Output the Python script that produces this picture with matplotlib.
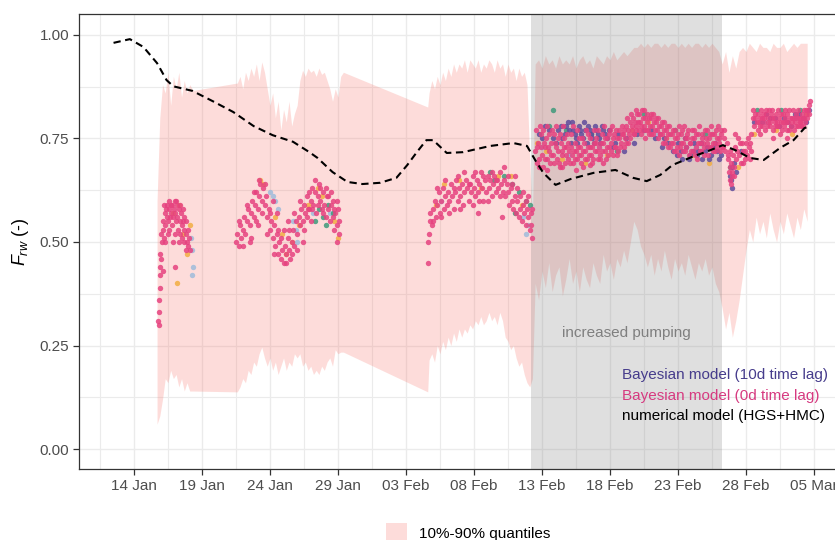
import numpy as np
import matplotlib
matplotlib.use("Agg")
import matplotlib.pyplot as plt
import matplotlib.dates as mdates
import matplotlib.ticker as mticker
from matplotlib.patches import Rectangle

plt.rcParams['font.family'] = ['Liberation Sans', 'DejaVu Sans']
plt.rcParams['mathtext.fontset'] = 'custom'
plt.rcParams['mathtext.it'] = 'Liberation Sans:italic'
plt.rcParams['mathtext.rm'] = 'Liberation Sans'

# day of year 2019 (1 = 01 Jan)
# numerical model (HGS+HMC)
num_t = [12.5, 13.7, 14.7, 15.7, 16.4, 16.9, 18.3, 19.8, 21.3, 22.8, 24.2, 25.7,
         26.9, 27.5, 28.6, 29.7, 30.8, 32.1, 33.3, 34.1, 34.8, 35.5, 36.0, 37.0,
         38.2, 40.2, 41.9, 42.9, 43.5, 44.1, 45.0, 46.1, 47.8, 49.4, 50.7, 51.7,
         52.7, 53.6, 55.0, 56.4, 57.3, 58.2, 59.3, 60.3, 61.5, 62.5, 63.3, 63.7]
num_v = [0.981, 0.990, 0.971, 0.932, 0.891, 0.876, 0.865, 0.840, 0.814, 0.780, 0.758, 0.742,
         0.717, 0.703, 0.669, 0.645, 0.640, 0.643, 0.655, 0.686, 0.717, 0.746, 0.746, 0.715,
         0.717, 0.732, 0.739, 0.732, 0.698, 0.667, 0.638, 0.652, 0.667, 0.674, 0.655, 0.647,
         0.662, 0.686, 0.705, 0.722, 0.734, 0.722, 0.703, 0.698, 0.727, 0.746, 0.775, 0.780]

# 10%-90% quantile band
band_t = [15.7, 15.9, 16.1, 16.3, 16.5, 16.7, 16.9, 17.1, 17.3, 17.5, 17.7, 17.9, 18.1, 18.35,
          21.6, 21.8, 22.0, 22.2, 22.4, 22.6, 22.8, 23.0, 23.2, 23.4, 23.6, 23.8, 24.0, 24.2,
          24.4, 24.6, 24.8, 25.0, 25.2, 25.4, 25.6, 25.8, 26.0, 26.2, 26.4, 26.6, 26.8, 27.0,
          27.2, 27.4, 27.6, 27.8, 28.0, 28.2, 28.4, 28.6, 28.8, 29.0, 29.2, 29.4,
          35.6, 35.7, 35.9, 36.1, 36.3, 36.5, 36.7, 36.9, 37.1, 37.3, 37.5, 37.7, 37.9, 38.1,
          38.3, 38.5, 38.7, 38.9, 39.1, 39.3, 39.5, 39.7, 39.9, 40.1, 40.3, 40.5, 40.7, 40.9,
          41.1, 41.3, 41.5, 41.7, 41.9, 42.1, 42.3, 42.5, 42.7, 42.9, 43.1, 43.3,
          43.5, 43.75, 44.0, 44.25, 44.5, 44.75, 45.0, 45.25, 45.5, 45.75, 46.0, 46.25, 46.5,
          46.75, 47.0, 47.25, 47.5, 47.75, 48.0, 48.25, 48.5, 48.75, 49.0, 49.25, 49.5, 49.75,
          50.0, 50.25, 50.5, 50.75, 51.0, 51.25, 51.5, 51.75, 52.0, 52.25, 52.5, 52.75, 53.0,
          53.25, 53.5, 53.75, 54.0, 54.25, 54.5, 54.75, 55.0, 55.25, 55.5, 55.75, 56.0, 56.25,
          56.5, 56.75, 57.0, 57.25, 57.5, 57.75, 58.0, 58.25, 58.5, 58.75, 59.0, 59.25, 59.5,
          59.75, 60.0, 60.25, 60.5, 60.75, 61.0, 61.25, 61.5, 61.75, 62.0, 62.25, 62.5, 62.75,
          63.0, 63.25, 63.5]
band_hi = [0.60, 0.80, 0.88, 0.86, 0.91, 0.83, 0.90, 0.87, 0.91, 0.85, 0.89, 0.86, 0.88, 0.866,
           0.884, 0.90, 0.87, 0.91, 0.89, 0.92, 0.90, 0.93, 0.89, 0.935, 0.91, 0.87, 0.83, 0.86,
           0.80, 0.84, 0.77, 0.82, 0.79, 0.84, 0.78, 0.81, 0.83, 0.89, 0.915, 0.90, 0.92, 0.91,
           0.915, 0.90, 0.92, 0.905, 0.91, 0.89, 0.87, 0.84, 0.87, 0.85, 0.90, 0.91,
           0.826, 0.86, 0.89, 0.87, 0.90, 0.88, 0.91, 0.89, 0.92, 0.90, 0.93, 0.91, 0.93, 0.92,
           0.94, 0.91, 0.94, 0.93, 0.92, 0.94, 0.91, 0.93, 0.92, 0.94, 0.93, 0.91, 0.94, 0.92,
           0.93, 0.90, 0.93, 0.91, 0.92, 0.89, 0.92, 0.90, 0.91, 0.88, 0.70, 0.55,
           0.93, 0.94, 0.92, 0.95, 0.93, 0.94, 0.92, 0.95, 0.93, 0.94, 0.93, 0.95, 0.92,
           0.94, 0.95, 0.93, 0.94, 0.92, 0.95, 0.94, 0.93, 0.95, 0.94, 0.96, 0.94, 0.95,
           0.96, 0.95, 0.96, 0.97, 0.97, 0.98, 0.97, 0.98, 0.97, 0.98, 0.98, 0.97, 0.98,
           0.97, 0.98, 0.98, 0.97, 0.98, 0.97, 0.98, 0.97, 0.98, 0.98, 0.97, 0.98, 0.97,
           0.98, 0.97, 0.96, 0.93, 0.96, 0.91, 0.95, 0.92, 0.96, 0.97, 0.96, 0.98, 0.97,
           0.96, 0.98, 0.97, 0.97, 0.96, 0.98, 0.97, 0.97, 0.98, 0.96, 0.97, 0.98, 0.97,
           0.98, 0.98, 0.98]
band_lo = [0.06, 0.08, 0.12, 0.17, 0.16, 0.19, 0.17, 0.18, 0.15, 0.17, 0.14, 0.16, 0.14, 0.14,
           0.138, 0.15, 0.17, 0.16, 0.19, 0.18, 0.21, 0.20, 0.23, 0.246, 0.22, 0.20, 0.22, 0.19,
           0.21, 0.18, 0.20, 0.22, 0.19, 0.21, 0.20, 0.23, 0.22, 0.23, 0.20, 0.21, 0.19, 0.20,
           0.18, 0.19, 0.18, 0.20, 0.19, 0.21, 0.22, 0.20, 0.24, 0.23, 0.234, 0.234,
           0.138, 0.215, 0.23, 0.21, 0.25, 0.23, 0.26, 0.24, 0.27, 0.25, 0.28, 0.26, 0.29, 0.27,
           0.29, 0.28, 0.30, 0.29, 0.31, 0.30, 0.32, 0.30, 0.31, 0.33, 0.31, 0.32, 0.30, 0.33,
           0.31, 0.27, 0.26, 0.24, 0.25, 0.22, 0.20, 0.21, 0.18, 0.16, 0.15, 0.17,
           0.40, 0.36, 0.43, 0.39, 0.45, 0.38, 0.42, 0.44, 0.37, 0.41, 0.46, 0.40, 0.43,
           0.38, 0.44, 0.41, 0.39, 0.45, 0.42, 0.40, 0.47, 0.43, 0.45, 0.41, 0.46, 0.44,
           0.48, 0.45, 0.50, 0.55, 0.53, 0.49, 0.47, 0.44, 0.47, 0.42, 0.46, 0.43, 0.48,
           0.44, 0.41, 0.46, 0.43, 0.45, 0.42, 0.47, 0.44, 0.41, 0.45, 0.43, 0.46, 0.42,
           0.44, 0.40, 0.38, 0.34, 0.29, 0.33, 0.27, 0.31, 0.36, 0.42, 0.48, 0.53, 0.50,
           0.56, 0.52, 0.55, 0.51, 0.57, 0.53, 0.50, 0.55, 0.52, 0.57, 0.54, 0.51, 0.56,
           0.53, 0.58, 0.55]

# Bayesian model (0d time lag)
pink_pts = [
    # 15-18 Jan
    (15.80, .31), (15.82, .30), (15.86, .33), (15.84, .36), (15.90, .39), (15.88, .42), (15.95, .44),
    (15.92, .47), (16.00, .46), (16.05, .50), (16.10, .53), (16.02, .52), (16.15, .55), (16.20, .51),
    (16.25, .57), (16.30, .54), (16.35, .58), (16.40, .56), (16.45, .59), (16.50, .55), (16.55, .58),
    (16.60, .53), (16.65, .56), (16.70, .59), (16.75, .57), (16.80, .54), (16.85, .50), (16.90, .56),
    (16.95, .58), (17.00, .60), (17.05, .57), (17.10, .55), (17.15, .59), (17.20, .56), (17.25, .53),
    (17.30, .58), (17.35, .55), (17.40, .52), (17.45, .57), (17.50, .54), (17.55, .51), (17.60, .55),
    (17.65, .53), (17.70, .50), (17.80, .52), (17.90, .50), (18.00, .49), (18.10, .48), (16.15, .43),
    (17.00, .44), (16.3, .50), (16.5, .52), (16.6, .60), (16.8, .59), (17.0, .52), (17.1, .60),
    (17.3, .50), (17.4, .59), (17.6, .58), (17.7, .56), (17.8, .55), (17.85, .48), (18.0, .53),
    (18.05, .51), (16.2, .59),
    # 21-29 Jan
    (21.5, .50), (21.6, .52), (21.7, .49), (21.8, .54), (21.9, .51), (22.0, .53), (22.1, .56), (22.2, .52),
    (22.3, .55), (22.4, .58), (22.5, .54), (22.6, .57), (22.7, .60), (22.8, .56), (22.9, .59), (23.0, .62),
    (23.1, .58), (23.2, .61), (23.3, .64), (23.4, .60), (23.5, .63), (23.6, .59), (23.7, .61), (23.8, .56),
    (23.9, .58), (24.0, .53), (24.1, .55), (24.2, .51), (24.3, .54), (24.4, .49), (24.5, .52), (24.6, .47),
    (24.7, .50), (24.8, .46), (24.9, .48), (25.0, .45), (25.1, .49), (25.2, .47), (25.3, .51), (25.4, .48),
    (25.5, .46), (25.6, .50), (25.7, .53), (25.8, .49), (25.9, .55), (26.0, .52), (26.1, .56), (26.2, .54),
    (26.3, .58), (26.4, .55), (26.5, .59), (26.6, .57), (26.7, .61), (26.8, .58), (26.9, .62), (27.0, .60),
    (27.1, .63), (27.2, .59), (27.3, .62), (27.4, .57), (27.5, .61), (27.6, .64), (27.7, .60), (27.8, .58),
    (27.9, .62), (28.0, .59), (28.1, .56), (28.2, .61), (28.3, .58), (28.4, .55), (28.5, .59), (28.6, .56),
    (28.7, .53), (28.8, .57), (28.9, .54), (29.0, .58), (24.2, .60), (23.0, .55), (25.3, .55), (27.0, .55),
    (28.6, .60), (22.6, .51), (24.5, .57), (26.4, .50), (28.9, .50),
    (21.7, .55), (22.0, .49), (22.3, .59), (22.5, .50), (22.8, .62), (23.1, .54), (23.2, .65), (23.4, .57),
    (23.6, .64), (23.8, .52), (24.0, .57), (24.3, .47), (24.6, .53), (24.8, .51), (25.0, .53), (25.2, .45),
    (25.4, .53), (25.6, .47), (25.8, .57), (26.0, .48), (26.2, .60), (26.5, .53), (26.7, .56), (26.9, .58),
    (27.1, .58), (27.3, .65), (27.5, .59), (27.7, .63), (27.9, .57), (28.1, .63), (28.3, .61), (28.5, .62),
    (28.7, .58), (28.9, .60), (29.1, .55), (29.1, .52),
    # 04-12 Feb
    (35.6, .45), (35.65, .50), (35.7, .52), (35.75, .55), (35.8, .57), (35.9, .54), (36.0, .58), (36.1, .60),
    (36.2, .56), (36.3, .59), (36.4, .62), (36.5, .57), (36.6, .60), (36.7, .63), (36.8, .58), (36.9, .61),
    (37.0, .59), (37.1, .62), (37.2, .60), (37.3, .64), (37.4, .61), (37.5, .58), (37.6, .62), (37.7, .65),
    (37.8, .60), (37.9, .63), (38.0, .61), (38.1, .64), (38.2, .59), (38.3, .62), (38.4, .65), (38.5, .63),
    (38.6, .60), (38.7, .64), (38.8, .62), (38.9, .66), (39.0, .63), (39.1, .61), (39.2, .65), (39.3, .62),
    (39.4, .64), (39.5, .67), (39.6, .63), (39.7, .60), (39.8, .65), (39.9, .62), (40.0, .66), (40.1, .63),
    (40.2, .65), (40.3, .61), (40.4, .64), (40.5, .66), (40.6, .62), (40.7, .65), (40.8, .63), (40.9, .67),
    (41.0, .64), (41.1, .62), (41.2, .65), (41.3, .61), (41.4, .64), (41.5, .62), (41.6, .59), (41.7, .63),
    (41.8, .60), (41.9, .58), (42.0, .61), (42.1, .57), (42.2, .60), (42.3, .56), (42.4, .58), (42.5, .55),
    (42.6, .59), (42.7, .57), (42.8, .54), (42.9, .58), (43.0, .56), (43.1, .53), (43.2, .57), (43.3, .51),
    (39.3, .57), (41.06, .56),
    (36.0, .55), (36.3, .63), (36.6, .56), (36.9, .65), (37.2, .57), (37.5, .63), (37.8, .66), (38.0, .58),
    (38.3, .67), (38.6, .64), (38.9, .59), (39.1, .67), (39.4, .60), (39.7, .66), (40.0, .60), (40.3, .67),
    (40.6, .65), (40.9, .61), (41.2, .68), (41.5, .66), (41.8, .64), (42.0, .66), (42.2, .63), (42.4, .61),
    (42.6, .62), (42.8, .60), (43.0, .61), (43.2, .54), (43.3, .58),
    # 12-26 Feb (increased pumping)
    (43.5, .72), (43.6, .69), (43.7, .74), (43.8, .70), (43.9, .76), (44.0, .71), (44.1, .68), (44.2, .73),
    (44.3, .75), (44.4, .70), (44.5, .72), (44.6, .69), (44.7, .74), (44.8, .71), (44.9, .76), (45.0, .73),
    (45.1, .70), (45.2, .72), (45.3, .68), (45.4, .74), (45.5, .71), (45.6, .75), (45.7, .69), (45.8, .73),
    (45.9, .70), (46.0, .72), (46.1, .76), (46.2, .71), (46.3, .69), (46.4, .74), (46.5, .72), (46.6, .70),
    (46.7, .75), (46.8, .73), (46.9, .71), (47.0, .68), (47.1, .74), (47.2, .72), (47.3, .70), (47.4, .76),
    (47.5, .73), (47.6, .71), (47.7, .69), (47.8, .74), (47.9, .72), (48.0, .75), (48.1, .70), (48.2, .73),
    (48.3, .71), (48.4, .76), (48.5, .74), (48.6, .72), (48.7, .70), (48.8, .75), (48.9, .73), (49.0, .77),
    (49.1, .74), (49.2, .71), (49.3, .76), (49.4, .73), (49.5, .75), (49.6, .72), (49.7, .77), (49.8, .74),
    (49.9, .76), (50.0, .73), (50.1, .75), (50.2, .78), (50.3, .74), (50.4, .76), (50.5, .79), (50.6, .77),
    (50.7, .80), (50.8, .76), (50.9, .78), (51.0, .81), (51.1, .77), (51.2, .79), (51.3, .76), (51.4, .80),
    (51.5, .78), (51.6, .75), (51.7, .79), (51.8, .77), (51.9, .80), (52.0, .76), (52.1, .78), (52.2, .81),
    (52.3, .77), (52.4, .79), (52.5, .75), (52.6, .78), (52.7, .76), (52.8, .79), (52.9, .74), (53.0, .77),
    (53.1, .75), (53.2, .78), (53.3, .73), (53.4, .76), (53.5, .74), (53.6, .77), (53.7, .72), (53.8, .75),
    (53.9, .73), (54.0, .76), (54.1, .71), (54.2, .74), (54.3, .77), (54.4, .72), (54.5, .75), (54.6, .73),
    (54.7, .76), (54.8, .71), (54.9, .74), (55.0, .77), (55.1, .72), (55.2, .75), (55.3, .73), (55.4, .70),
    (55.5, .76), (55.6, .74), (55.7, .72), (55.8, .75), (55.9, .73), (56.0, .77), (56.1, .74), (56.2, .71),
    (56.3, .75), (56.4, .73), (56.5, .76), (56.6, .72), (56.7, .74), (56.8, .77), (56.9, .73), (57.0, .75),
    (57.1, .72), (57.2, .76), (57.3, .73), (57.4, .75), (44.4, .675), (45.5, .68), (46.5, .675),
    (47.5, .685), (48.5, .69), (50.9, .82), (52.0, .81), (51.5, .82),
    (43.55, .77), (43.65, .73), (43.75, .68), (43.85, .78), (43.95, .73), (44.05, .77), (44.15, .74),
    (44.25, .70), (44.35, .78), (44.45, .73), (44.55, .76), (44.65, .71), (44.75, .77), (44.85, .69),
    (44.95, .74), (45.05, .78), (45.15, .75), (45.25, .69), (45.35, .76), (45.45, .72), (45.55, .78),
    (45.65, .73), (45.75, .71), (45.85, .76), (45.95, .74), (46.05, .69), (46.15, .73), (46.25, .78),
    (46.35, .72), (46.45, .70), (46.55, .77), (46.65, .73), (46.75, .71), (46.85, .69), (46.95, .75),
    (47.05, .72), (47.15, .70), (47.25, .77), (47.35, .73), (47.45, .71), (47.55, .75), (47.65, .73),
    (47.75, .70), (47.85, .77), (47.95, .74), (48.05, .72), (48.15, .77), (48.25, .70), (48.35, .74),
    (48.45, .72), (48.55, .78), (48.65, .75), (48.75, .73), (48.85, .71), (48.95, .76), (49.05, .72),
    (49.15, .78), (49.25, .75), (49.35, .73), (49.45, .77), (49.55, .71), (49.65, .75), (49.75, .73),
    (49.85, .78), (49.95, .76), (50.05, .77), (50.15, .74), (50.25, .80), (50.35, .77), (50.45, .75),
    (50.55, .81), (50.65, .78), (50.75, .76), (50.85, .79), (50.95, .77), (51.05, .79), (51.15, .81),
    (51.25, .78), (51.35, .82), (51.45, .77), (51.55, .80), (51.65, .77), (51.75, .81), (51.85, .76),
    (51.95, .78), (52.05, .80), (52.15, .76), (52.25, .79), (52.35, .80), (52.45, .77), (52.55, .80),
    (52.65, .76), (52.75, .78), (52.85, .76), (52.95, .79), (53.05, .74), (53.15, .77), (53.25, .76),
    (53.35, .78), (53.45, .73), (53.55, .76), (53.65, .74), (53.75, .77), (53.85, .72), (53.95, .75),
    (54.05, .78), (54.15, .73), (54.25, .76), (54.35, .74), (54.45, .78), (54.55, .72), (54.65, .75),
    (54.75, .77), (54.85, .74), (54.95, .72), (55.05, .75), (55.15, .77), (55.25, .71), (55.35, .76),
    (55.45, .74), (55.55, .78), (55.65, .72), (55.75, .76), (55.85, .74), (55.95, .71), (56.05, .75),
    (56.15, .77), (56.25, .73), (56.35, .76), (56.45, .78), (56.55, .74), (56.65, .76), (56.75, .72),
    (56.85, .75), (56.95, .78), (57.05, .74), (57.15, .77), (57.25, .73), (57.35, .77), (57.45, .72),
    # 26-28 Feb dip
    (57.6, .74), (57.7, .70), (57.75, .67), (57.8, .72), (57.85, .65), (57.9, .69), (58.0, .66),
    (58.05, .71), (58.1, .68), (58.2, .73), (58.3, .70), (58.4, .75), (58.5, .71), (58.6, .69),
    (58.7, .74), (58.8, .72), (58.9, .70), (59.0, .74), (59.1, .71), (59.2, .73), (59.3, .70),
    (59.35, .72), (59.4, .76), (57.9, .64), (58.2, .76),
    (57.65, .71), (57.8, .68), (57.95, .67), (58.15, .66), (58.35, .72), (58.55, .74), (58.75, .69),
    (58.95, .72), (59.15, .75), (59.3, .74),
    # 28 Feb - 04 Mar
    (59.5, .80), (59.6, .78), (59.7, .81), (59.8, .79), (59.9, .77), (60.0, .80), (60.1, .82), (60.2, .78),
    (60.3, .80), (60.4, .77), (60.5, .81), (60.6, .79), (60.7, .82), (60.8, .78), (60.9, .80), (61.0, .77),
    (61.1, .79), (61.2, .81), (61.3, .78), (61.4, .80), (61.5, .76), (61.6, .79), (61.7, .81), (61.8, .78),
    (61.9, .80), (62.0, .77), (62.1, .79), (62.2, .82), (62.3, .78), (62.4, .80), (62.5, .77), (62.6, .79),
    (62.7, .81), (62.8, .78), (62.9, .80), (63.0, .79), (63.1, .81), (63.2, .78), (63.3, .80), (63.4, .82),
    (63.5, .80), (63.6, .83), (63.7, .84), (61.0, .75), (62.0, .75), (60.0, .76),
    (59.55, .82), (59.65, .80), (59.85, .81), (59.95, .79), (60.05, .78), (60.15, .80), (60.25, .81),
    (60.35, .79), (60.45, .82), (60.55, .78), (60.65, .80), (60.75, .79), (60.85, .81), (60.95, .82),
    (61.05, .80), (61.15, .78), (61.25, .79), (61.35, .82), (61.45, .78), (61.55, .81), (61.65, .77),
    (61.75, .79), (61.85, .82), (61.95, .79), (62.05, .81), (62.15, .77), (62.25, .80), (62.35, .79),
    (62.45, .82), (62.55, .80), (62.65, .78), (62.75, .80), (62.85, .82), (62.95, .79), (63.05, .78),
    (63.15, .80), (63.25, .82), (63.35, .79), (63.45, .81), (63.55, .82), (63.65, .81),
]

# Bayesian model (10d time lag)
purple_pts = [
    (44.0, .75), (44.5, .77), (45.0, .74), (45.4, .78), (45.7, .76), (45.9, .79), (46.1, .74), (46.3, .77),
    (46.5, .75), (46.7, .78), (46.9, .76), (47.1, .79), (47.3, .74), (47.5, .77), (47.7, .75), (47.9, .78),
    (48.1, .76), (48.3, .74), (48.5, .77), (48.8, .75), (49.2, .73), (49.6, .76), (50.2, .75), (51.0, .76),
    (52.0, .77), (53.0, .75), (53.6, .72), (54.0, .74), (54.3, .70), (54.6, .73), (54.9, .71), (55.2, .74),
    (55.5, .72), (55.8, .70), (56.1, .73), (56.4, .71), (56.7, .74), (57.0, .70), (57.8, .66), (57.95, .63),
    (58.1, .69), (58.3, .67), (58.6, .72), (60.2, .79), (60.8, .80), (61.4, .78), (62.0, .79), (62.6, .81),
    (63.2, .80), (63.6, .82),
    (43.8, .76), (44.2, .78), (44.8, .75), (45.2, .77), (45.5, .75), (45.8, .78), (46.0, .77), (46.2, .79),
    (46.4, .76), (46.6, .74), (46.8, .77), (47.0, .75), (47.2, .77), (47.4, .78), (47.6, .76), (47.8, .74),
    (48.0, .77), (48.2, .75), (48.4, .78), (48.6, .76), (48.9, .77), (49.4, .74), (50.0, .72), (50.8, .74),
    (51.5, .77), (52.3, .75), (52.8, .73), (53.3, .74), (53.9, .71), (54.2, .72), (54.5, .75), (54.8, .70),
    (55.1, .72), (55.4, .71), (55.7, .74), (56.0, .72), (56.3, .70), (56.6, .73), (56.9, .72), (57.2, .71),
    (57.9, .65), (58.0, .68), (59.6, .79), (60.5, .81), (61.1, .80), (61.8, .80), (62.3, .78), (62.9, .81),
    (63.4, .79),
]

# other time lags
orange_pts = [
    (16.9, .57), (17.3, .59), (17.6, .52), (17.9, .47), (17.2, .40), (18.1, .54),
    (23.3, .65), (23.5, .64), (24.4, .56), (24.9, .52), (25.6, .50), (26.1, .54), (26.8, .59), (27.8, .61),
    (28.7, .55), (29.0, .51), (27.5, .63), (25.2, .47),
    (36.8, .64), (37.9, .65), (39.5, .63), (40.8, .66), (41.7, .66), (42.5, .59), (36.2, .59),
    (43.6, .74), (44.3, .72), (45.5, .70), (47.2, .69), (48.8, .71), (50.6, .77), (51.8, .79), (53.1, .75),
    (55.0, .71), (56.3, .69),
    (58.4, .68), (59.6, .76), (61.2, .77), (62.4, .76), (63.5, .81),
]
blue_pts = [
    (18.3, .42), (18.35, .44), (18.25, .48), (18.2, .51),
    (24.0, .62), (24.2, .61), (24.4, .60), (24.6, .58), (25.7, .55), (25.9, .53), (26.0, .50), (27.2, .57),
    (28.4, .57),
    (42.6, .56), (43.0, .54), (42.8, .52), (36.6, .60),
    (44.0, .73), (46.0, .71), (48.2, .73), (52.5, .76), (55.3, .73),
    (60.5, .79), (62.7, .80),
]
green_pts = [
    (27.6, .58), (27.9, .56), (28.1, .54), (28.3, .59), (28.6, .57), (27.3, .55),
    (40.2, .67), (40.5, .65), (41.2, .66), (41.8, .64), (42.3, .62), (42.8, .60), (43.1, .59), (42.0, .57),
    (44.5, .78), (44.8, .82), (45.8, .77), (47.6, .76), (49.5, .72), (51.5, .81), (53.8, .77), (56.0, .76),
    (57.8, .68), (59.8, .82), (61.6, .82), (63.0, .82),
]

pump_start, pump_end = 43.2, 57.25

# day of year -> matplotlib date number (2019)
day0 = mdates.date2num(np.datetime64('2019-01-01')) - 1


def to_date(d):
    return day0 + np.asarray(d, dtype=float)


W, H = 835, 540
fig = plt.figure(figsize=(W / 100, H / 100), dpi=100)
ax = fig.add_axes([79 / W, (H - 469) / H, 771 / W, 455 / H])

ax.set_axisbelow(True)
ax.grid(which='major', color='#ebebeb', lw=1.0)
ax.grid(which='minor', color='#ebebeb', lw=0.8)

ax.fill_between(to_date(band_t), band_lo, band_hi, color='#F8766D', alpha=0.25, lw=0, zorder=1)
ax.axvspan(to_date(pump_start), to_date(pump_end), color='grey', alpha=0.25, lw=0, zorder=1.1)

for pts, col in [(orange_pts, '#F2AE42'), (blue_pts, '#9FBCDB'), (green_pts, '#3E9A7B')]:
    t, v = zip(*pts)
    ax.scatter(to_date(t), v, s=15, color=col, alpha=0.85, lw=0, zorder=2)
# 10d lag drawn under the 0d lag points
t, v = zip(*purple_pts)
ax.scatter(to_date(t), v, s=15, color='#5E4B9B', alpha=0.85, lw=0, zorder=2.5)
t, v = zip(*pink_pts)
ax.scatter(to_date(t), v, s=15, color='#E6427F', alpha=0.85, lw=0, zorder=3)

ax.plot(to_date(num_t), num_v, color='black', lw=1.5, dashes=(3.5, 2.2), zorder=4)

ax.set_xlim(to_date(9.96), to_date(66.65))
ax.set_ylim(-0.0483, 1.0507)
ax.xaxis.set_major_locator(mticker.MultipleLocator(5))
ax.xaxis.set_minor_locator(mticker.MultipleLocator(2.5))
ax.xaxis.set_major_formatter(mdates.DateFormatter('%d %b'))
ax.yaxis.set_major_locator(mticker.FixedLocator([0, 0.25, 0.5, 0.75, 1.0]))
ax.yaxis.set_minor_locator(mticker.FixedLocator([0.125, 0.375, 0.625, 0.875]))
ax.yaxis.set_major_formatter(mticker.FormatStrFormatter('%.2f'))
ax.tick_params(which='major', length=4, width=0.9, color='#333333', labelcolor='#4d4d4d',
               labelsize=11, pad=3)
ax.tick_params(which='minor', length=0)
for sp in ax.spines.values():
    sp.set_color('#333333')
    sp.set_linewidth(0.9)

ax.set_ylabel(r'$F_{rw}$ (-)', fontsize=13, color='black', labelpad=6)

# annotations
fig.text(626 / W, (H - 333) / H, 'increased pumping', color='#7f7f7f', fontsize=11,
         ha='center', va='center')
fig.text(622 / W, (H - 375) / H, 'Bayesian model (10d time lag)', color='#463c8c', fontsize=11,
         va='center')
fig.text(622 / W, (H - 396) / H, 'Bayesian model (0d time lag)', color='#d63a80', fontsize=11,
         va='center')
fig.text(622 / W, (H - 416) / H, 'numerical model (HGS+HMC)', color='black', fontsize=11,
         va='center')

# bottom legend
fig.patches.append(Rectangle((386 / W, (H - 545) / H), 21 / W, 22 / H, transform=fig.transFigure,
                             facecolor='#F8766D', alpha=0.25, lw=0))
fig.text(419 / W, (H - 534) / H, '10%-90% quantiles', color='black', fontsize=11, va='center')

fig.savefig('out.png', dpi=100)
